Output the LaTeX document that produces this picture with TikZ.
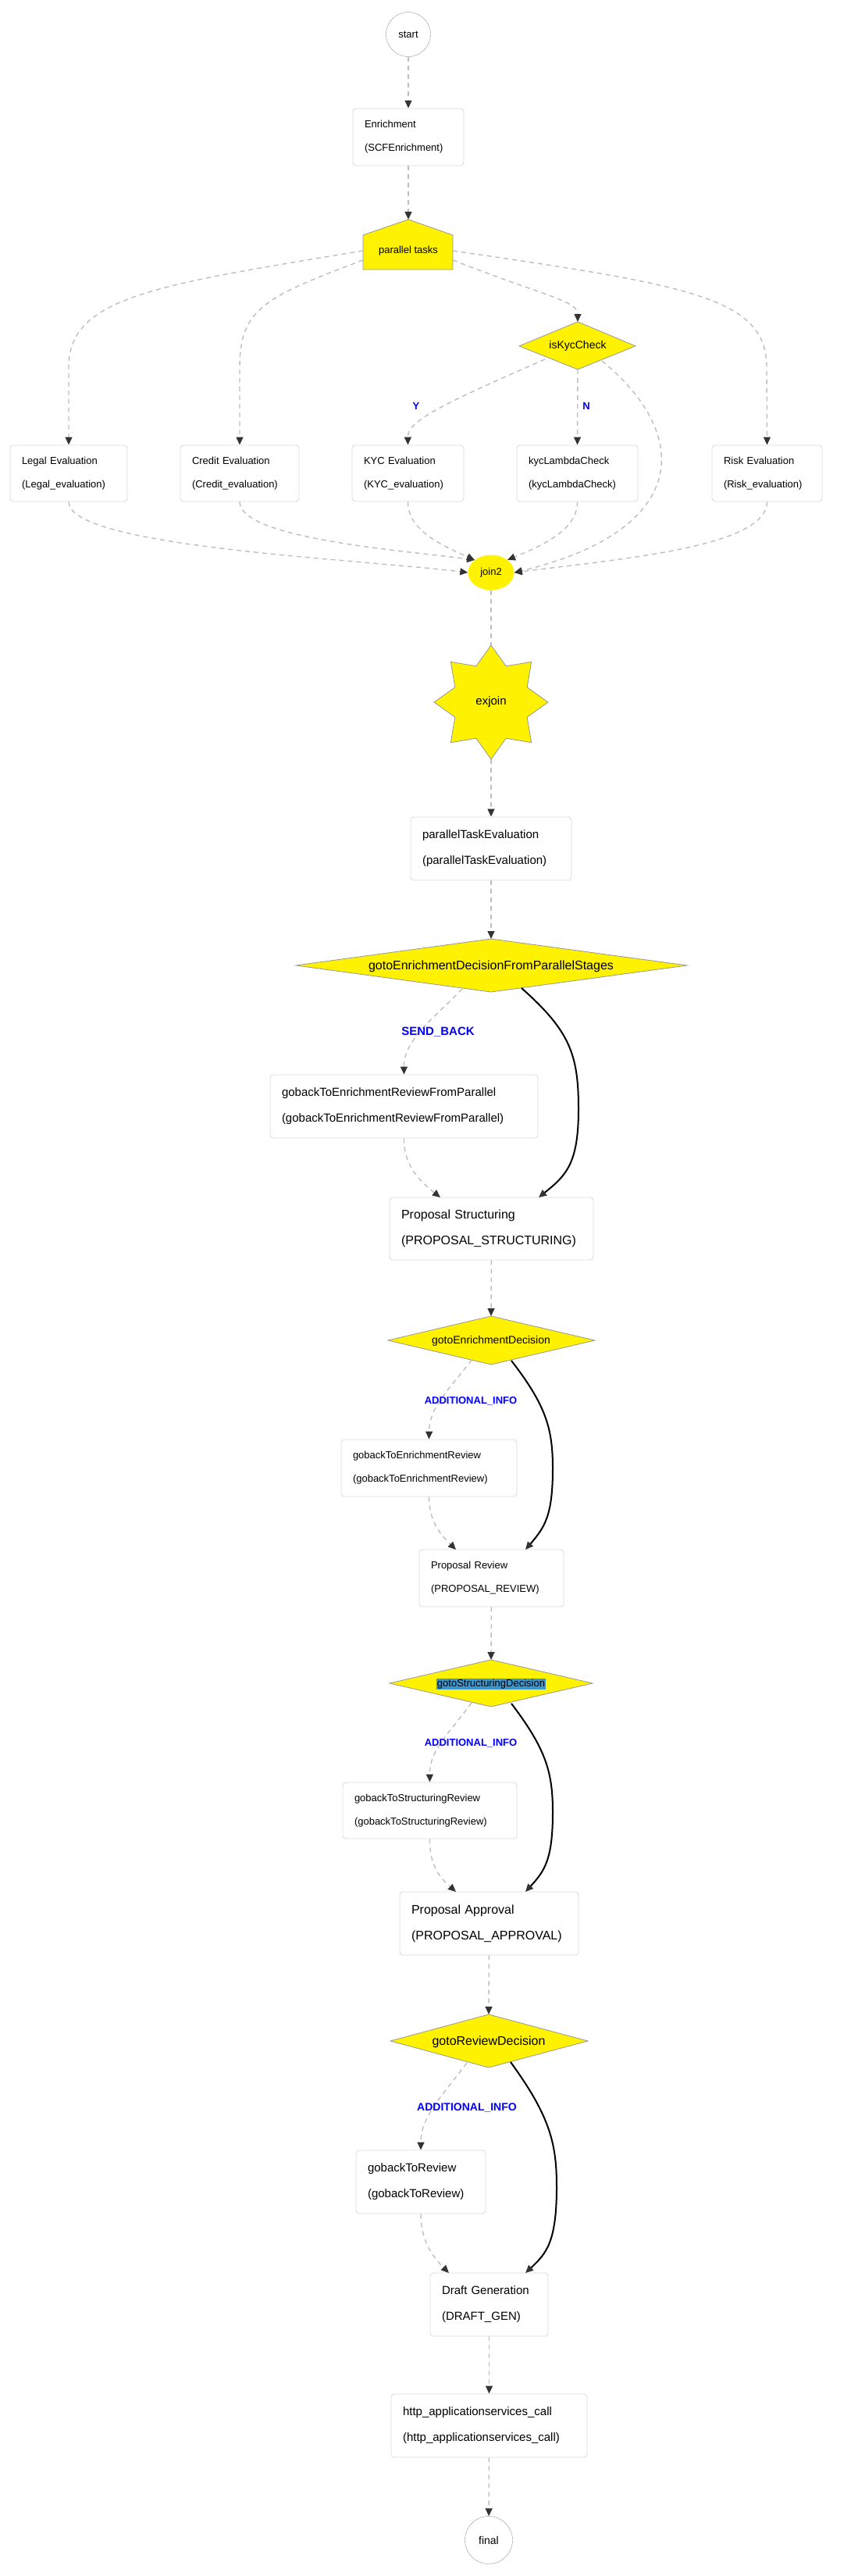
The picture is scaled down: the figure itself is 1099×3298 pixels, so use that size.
\documentclass[tikz,border=0pt]{standalone}
\usepackage{fontspec}
\setmainfont{Liberation Sans}
\usetikzlibrary{arrows.meta,shapes.geometric}
\definecolor{edgegray}{RGB}{190,190,190}
\definecolor{tipgray}{RGB}{51,51,51}
\definecolor{boxline}{RGB}{220,220,220}
\definecolor{shapeline}{RGB}{150,150,150}
\definecolor{hl}{RGB}{60,150,205}
\tikzset{
  box/.style={draw=boxline, line width=0.9pt, rounded corners=4pt, fill=white, inner xsep=15pt, inner ysep=0pt, align=left},
  fs13/.style={font=\fontsize{13}{30}\selectfont},
  fs15/.style={font=\fontsize{15}{33}\selectfont},
  fs16/.style={font=\fontsize{16}{33}\selectfont},
  flow/.style={draw=edgegray, line width=1.4pt, dash pattern=on 6pt off 5pt, -{Triangle[length=10pt,width=9pt,color=tipgray]}},
  flownt/.style={draw=edgegray, line width=1.4pt, dash pattern=on 6pt off 5pt},
  solidflow/.style={draw=black, line width=2pt, -{Triangle[length=10pt,width=9pt,color=tipgray]}},
  ylw/.style={fill=yellow, draw=shapeline, line width=0.8pt},
  lbl/.style={text=blue, font=\bfseries\fontsize{13}{15}\selectfont},
}
\begin{document}
\begin{tikzpicture}[x=1pt,y=-1pt]
\useasboundingbox (0,0) rectangle (1099,3298);
% start
\node[draw=shapeline, circle, minimum size=57pt, inner sep=0, font=\fontsize{13}{15}\selectfont] (start) at (523,44) {start};
\node[box, fs13, minimum width=142pt, minimum height=73pt, text width=112pt] (enr) at (523,175.5) {Enrichment\\(SCFEnrichment)};
% parallel tasks house
\draw[ylw] (465,345) -- (465,301) -- (523,281) -- (580,301) -- (580,345) -- cycle;
\node[font=\fontsize{13}{15}\selectfont] (par) at (523,321) {parallel tasks};
\coordinate (parTop) at (523,281);
\coordinate (parL1) at (465,321); \coordinate (parL2) at (465,333);
\coordinate (parR1) at (580,321); \coordinate (parR2) at (580,333);
% isKycCheck
\draw[ylw] (665,443) -- (740,412) -- (814,443) -- (740,473) -- cycle;
\node[font=\fontsize{14}{16}\selectfont] (iskyc) at (740,443) {isKycCheck};
\coordinate (kycTop) at (740,412); \coordinate (kycBot) at (740,473);
\coordinate (kycBL) at (698,460); \coordinate (kycBR) at (771,462);
% row of boxes
\node[box, fs13, minimum width=150pt, minimum height=72pt, text width=120pt] (legal) at (88,606) {Legal Evaluation\\(Legal\_evaluation)};
\node[box, fs13, minimum width=152pt, minimum height=72pt, text width=122pt] (credit) at (307,606) {Credit Evaluation\\(Credit\_evaluation)};
\node[box, fs13, minimum width=143pt, minimum height=72pt, text width=113pt] (kyce) at (522.5,606) {KYC Evaluation\\(KYC\_evaluation)};
\node[box, fs13, minimum width=155pt, minimum height=72pt, text width=125pt] (kycl) at (739.5,606) {kycLambdaCheck\\(kycLambdaCheck)};
\node[box, fs13, minimum width=141pt, minimum height=72pt, text width=111pt] (risk) at (982.5,606) {Risk Evaluation\\(Risk\_evaluation)};
% join2
\node[ellipse, fill=yellow, minimum width=59pt, minimum height=45pt, inner sep=0, font=\fontsize{13}{15}\selectfont] (join) at (629,733) {join2};
% exjoin star
\draw[ylw, shift={(629,899)}] (90:73) -- (112.5:50) -- (135:73) -- (157.5:50) -- (180:73) -- (202.5:50) -- (225:73) -- (247.5:50) -- (270:73) -- (292.5:50) -- (315:73) -- (337.5:50) -- (0:73) -- (22.5:50) -- (45:73) -- (67.5:50) -- cycle;
\node[font=\fontsize{15}{17}\selectfont] (exj) at (629,899) {exjoin};
\coordinate (exTop) at (629,826); \coordinate (exBot) at (629,972);
\node[box, fs15, minimum width=206pt, minimum height=81pt, text width=176pt] (pte) at (629,1086.5) {parallelTaskEvaluation\\(parallelTaskEvaluation)};
% big diamond
\draw[ylw] (379,1236) -- (629,1202) -- (880,1236) -- (629,1270) -- cycle;
\node[font=\fontsize{16}{18}\selectfont] (d1) at (629,1237) {gotoEnrichmentDecisionFromParallelStages};
\coordinate (d1Top) at (629,1202); \coordinate (d1BL) at (592,1266); \coordinate (d1BR) at (668,1265);
\node[box, fs15, minimum width=343pt, minimum height=81pt, text width=313pt] (gb1) at (517.5,1416.5) {gobackToEnrichmentReviewFromParallel\\(gobackToEnrichmentReviewFromParallel)};
\node[box, fs16, minimum width=261pt, minimum height=80pt, text width=231pt] (ps) at (629.5,1573) {Proposal Structuring\\(PROPOSAL\_STRUCTURING)};
% decision 2
\draw[ylw] (497,1716) -- (629,1685) -- (762,1716) -- (629,1747) -- cycle;
\node[font=\fontsize{14}{16}\selectfont] (d2) at (629,1717) {gotoEnrichmentDecision};
\coordinate (d2Top) at (629,1685); \coordinate (d2BL) at (604,1741); \coordinate (d2BR) at (655,1742);
\node[box, fs13, minimum width=225pt, minimum height=73pt, text width=195pt] (gb2) at (549.5,1879.5) {gobackToEnrichmentReview\\(gobackToEnrichmentReview)};
\node[box, fs13, minimum width=185pt, minimum height=73pt, text width=155pt] (pr) at (629.5,2020.5) {Proposal Review\\(PROPOSAL\_REVIEW)};
% decision 3
\draw[ylw] (499,2155) -- (629,2125) -- (759,2155) -- (629,2185) -- cycle;
\node[fill=hl, inner sep=1pt, font=\fontsize{13}{15}\selectfont] (d3) at (629,2156) {gotoStructuringDecision};
\coordinate (d3Top) at (629,2125); \coordinate (d3BL) at (604,2180); \coordinate (d3BR) at (655,2181);
\node[box, fs13, minimum width=223pt, minimum height=72pt, text width=193pt] (gb3) at (550.5,2318) {gobackToStructuringReview\\(gobackToStructuringReview)};
\node[box, fs16, minimum width=229pt, minimum height=81pt, text width=199pt] (pa) at (626.5,2462.5) {Proposal Approval\\(PROPOSAL\_APPROVAL)};
% decision 4
\draw[ylw] (500,2613) -- (626,2579) -- (753,2613) -- (626,2647) -- cycle;
\node[font=\fontsize{16}{18}\selectfont] (d4) at (626,2614) {gotoReviewDecision};
\coordinate (d4Top) at (626,2579); \coordinate (d4BL) at (598,2641); \coordinate (d4BR) at (654,2640);
\node[box, fs15, minimum width=166pt, minimum height=81pt, text width=136pt] (gb4) at (539,2793.5) {gobackToReview\\(gobackToReview)};
\node[box, fs15, minimum width=151pt, minimum height=81pt, text width=121pt] (dg) at (626.5,2950.5) {Draft Generation\\(DRAFT\_GEN)};
\node[box, fs15, minimum width=251pt, minimum height=81pt, text width=221pt] (http) at (626.5,3105.5) {http\_applicationservices\_call\\(http\_applicationservices\_call)};
\node[draw=shapeline, circle, minimum size=61pt, inner sep=0, font=\fontsize{14}{16}\selectfont] (final) at (626,3252) {final};

% ---- connectors ----
\draw[flow] (start) -- (enr);
\draw[flow] (enr) -- (parTop);
\draw[flow] (parL1) .. controls (200,365) and (88,380) .. (88,470) -- (legal.north);
\draw[flow] (parL2) .. controls (340,380) and (307,395) .. (307,470) -- (credit.north);
\draw[flow] (parR2) .. controls (700,380) and (740,385) .. (kycTop);
\draw[flow] (parR1) .. controls (880,365) and (982,380) .. (982,470) -- (risk.north);
\draw[flow] (kycBL) .. controls (560,520) and (522,540) .. (kyce.north);
\node[lbl] (ylab) at (533,520) {Y};
\draw[flow] (kycBot) -- (kycl.north);
\node[lbl] (nlab) at (751,520) {N};
\draw[flow] (kycBR) .. controls (890,560) and (880,680) .. (join.east);
\draw[flow] (legal.south) .. controls (88,700) and (450,715) .. (join.west);
\draw[flow] (credit.south) .. controls (307,690) and (520,705) .. (join.north west);
\draw[flow] (kyce.south) .. controls (522,680) and (570,700) .. (join.north west);
\draw[flow] (kycl.south) .. controls (740,680) and (690,700) .. (join.north east);
\draw[flow] (risk.south) .. controls (982,700) and (800,715) .. (join.east);
\draw[flownt] (join) -- (exTop);
\draw[flow] (exBot) -- (pte);
\draw[flow] (pte) -- (d1Top);
\draw[flow] (d1BL) .. controls (560,1300) and (517,1330) .. (gb1.north);
\node[lbl, font=\bfseries\fontsize{15}{17}\selectfont] (l1) at (561,1321) {SEND\_BACK};
\draw[flow] (gb1.south) .. controls (517,1490) and (535,1510) .. (564,1533);
\draw[solidflow] (d1BR) .. controls (730,1320) and (741,1350) .. (741,1420) .. controls (741,1490) and (725,1505) .. (690,1533);
\draw[flow] (ps) -- (d2Top);
\draw[flow] (d2BL) .. controls (575,1780) and (550,1800) .. (gb2.north);
\node[lbl] (l2) at (603,1794) {ADDITIONAL\_INFO};
\draw[flow] (gb2.south) .. controls (550,1950) and (565,1965) .. (584,1984);
\draw[solidflow] (d2BR) .. controls (700,1800) and (708,1830) .. (708,1880) .. controls (708,1940) and (698,1955) .. (673,1984);
\draw[flow] (pr) -- (d3Top);
\draw[flow] (d3BL) .. controls (575,2220) and (550,2240) .. (gb3.north);
\node[lbl] (l3) at (603,2232) {ADDITIONAL\_INFO};
\draw[flow] (gb3.south) .. controls (550,2390) and (565,2405) .. (584,2422);
\draw[solidflow] (d3BR) .. controls (700,2240) and (708,2270) .. (708,2320) .. controls (708,2380) and (698,2395) .. (673,2422);
\draw[flow] (pa) -- (d4Top);
\draw[flow] (d4BL) .. controls (565,2685) and (539,2710) .. (gb4.north);
\node[lbl, font=\bfseries\fontsize{14}{16}\selectfont] (l4) at (598,2698) {ADDITIONAL\_INFO};
\draw[flow] (gb4.south) .. controls (539,2870) and (555,2890) .. (575,2910);
\draw[solidflow] (d4BR) .. controls (705,2710) and (713,2745) .. (713,2800) .. controls (713,2870) and (700,2885) .. (673,2910);
\draw[flow] (dg) -- (http);
\draw[flow] (http) -- (final);
\end{tikzpicture}
\end{document}
